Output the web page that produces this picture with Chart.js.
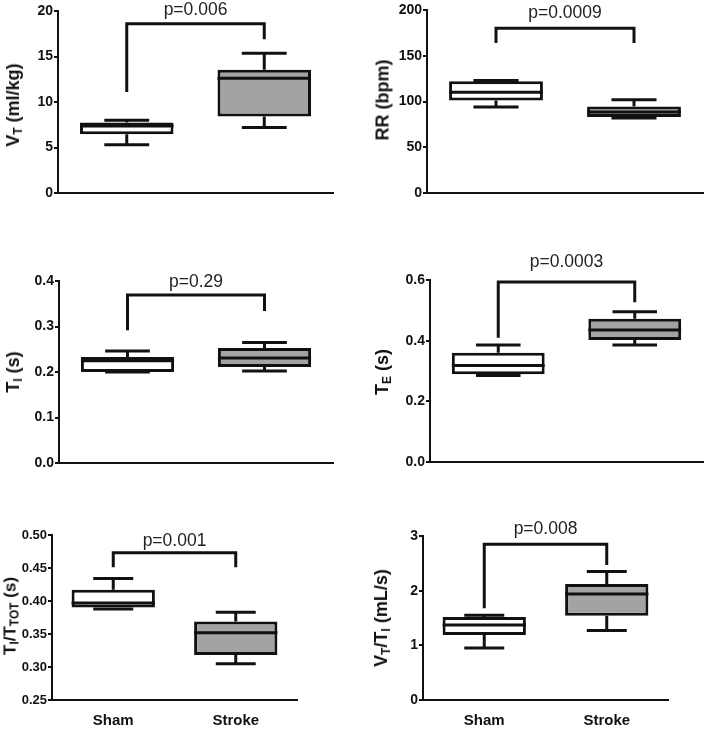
<!DOCTYPE html>
<html>
<head>
<meta charset="utf-8">
<script src="https://cdn.jsdelivr.net/npm/chart.js@4/dist/chart.umd.min.js"></script>
<style>
  body { margin: 0; background: #fff; }
  #page { position: relative; width: 709px; height: 729px; overflow: hidden; }
  #page canvas { position: absolute; }
  .ytitle {
    position: absolute;
    transform: translate(-50%, -50%) rotate(-90deg);
    font: bold 18px "Liberation Sans", Arial, sans-serif;
    color: #111;
    white-space: nowrap;
  }
  .ytitle sub { font-size: 12px; vertical-align: -3px; }
</style>
</head>
<body>
<div id="page"></div>
<script>
// groups on the x axis
const groups = ['Sham', 'Stroke'];

// axis titles and p values, one per panel
const yTitles = [
  'V<sub>T</sub> (ml/kg)',
  'RR (bpm)',
  'T<sub>I</sub> (s)',
  'T<sub>E</sub> (s)',
  'T<sub>I</sub>/T<sub>TOT</sub> (s)',
  'V<sub>T</sub>/T<sub>I</sub> (mL/s)',
];
const pLabels = ['p=0.006', 'p=0.0009', 'p=0.29', 'p=0.0003', 'p=0.001', 'p=0.008'];

// y axis ranges
const yMin = [0, 0, 0, 0, 0.25, 0];
const yMax = [20, 200, 0.4, 0.6, 0.5, 3];
const yStep = [5, 50, 0.1, 0.2, 0.05, 1];
const tickDecimals = [0, 0, 1, 1, 2, 0];

// box stats: [min, q1, median, q3, max]
const shamStats = [
  [5.3, 6.45, 7.35, 7.75, 8.0],
  [94, 101, 110, 122, 123],
  [0.2, 0.2, 0.225, 0.233, 0.246],
  [0.285, 0.289, 0.318, 0.36, 0.386],
  [0.388, 0.39, 0.397, 0.417, 0.434],
  [0.95, 1.19, 1.37, 1.52, 1.55],
];
const strokeStats = [
  [7.2, 8.4, 12.6, 13.55, 15.35],
  [82, 83, 88.5, 94.5, 102],
  [0.202, 0.211, 0.231, 0.253, 0.265],
  [0.386, 0.402, 0.435, 0.472, 0.495],
  [0.305, 0.318, 0.352, 0.369, 0.383],
  [1.27, 1.54, 1.94, 2.12, 2.35],
];

// significance brackets: [sham foot, top, stroke foot]
const brackets = [
  [11.1, 18.6, 16.9],
  [164, 180, 164],
  [0.292, 0.369, 0.334],
  [0.41, 0.593, 0.527],
  [0.451, 0.473, 0.451],
  [1.68, 2.85, 2.47],
];

// layout of the six panels (canvas box, chart area l/t/r/b, title centre)
const panels = [
  { left: 0, top: 0, width: 354, height: 235, area: [58, 11, 333, 193], title: [14, 105], tickSize: 14, pGap: 14 },
  { left: 354, top: 0, width: 355, height: 235, area: [427, 10, 703, 193], title: [383, 100], tickSize: 14, pGap: 15 },
  { left: 0, top: 235, width: 354, height: 250, area: [59, 281, 333, 463], title: [14, 372], tickSize: 14, pGap: 13 },
  { left: 354, top: 235, width: 355, height: 250, area: [430, 280, 703, 462], title: [383, 372], tickSize: 14, pGap: 20 },
  { left: 0, top: 485, width: 354, height: 244, area: [52, 535, 297, 700], title: [11, 616], tickSize: 13, pGap: 12, xLabels: true },
  { left: 354, top: 485, width: 355, height: 244, area: [423, 536, 668, 700], title: [382, 618], tickSize: 14, pGap: 15, xLabels: true },
];

const FONT = '"Liberation Sans", Arial, sans-serif';
const INK = '#111';
const GREY = '#a3a3a3';

// whiskers, medians and the p value bracket
const boxPlugin = {
  id: 'boxWhiskers',
  afterDatasetsDraw(chart, args, opts) {
    const { ctx } = chart;
    const y = chart.scales.y;
    const meta = chart.getDatasetMeta(0);
    const stats = chart.data.datasets[0].stats;
    ctx.save();
    ctx.strokeStyle = INK;
    ctx.lineWidth = 3;
    ctx.lineCap = 'butt';
    ctx.lineJoin = 'miter';
    meta.data.forEach((bar, i) => {
      const [mn, q1, med, q3, mx] = stats[i];
      const half = bar.width / 2;
      const cap = bar.width * 0.24;
      const yMed = y.getPixelForValue(med);
      const yQ1 = y.getPixelForValue(q1);
      const yQ3 = y.getPixelForValue(q3);
      const yMn = y.getPixelForValue(mn);
      const yMx = y.getPixelForValue(mx);
      ctx.beginPath();
      ctx.moveTo(bar.x - half, yMed);
      ctx.lineTo(bar.x + half, yMed);
      ctx.moveTo(bar.x, yQ3);
      ctx.lineTo(bar.x, yMx);
      ctx.moveTo(bar.x - cap, yMx);
      ctx.lineTo(bar.x + cap, yMx);
      ctx.moveTo(bar.x, yQ1);
      ctx.lineTo(bar.x, yMn);
      ctx.moveTo(bar.x - cap, yMn);
      ctx.lineTo(bar.x + cap, yMn);
      ctx.stroke();
    });

    // bracket
    const b = opts.bracket;
    const xl = meta.data[0].x;
    const xr = meta.data[1].x;
    const yTop = y.getPixelForValue(b[1]);
    ctx.beginPath();
    ctx.moveTo(xl, y.getPixelForValue(b[0]));
    ctx.lineTo(xl, yTop);
    ctx.lineTo(xr, yTop);
    ctx.lineTo(xr, y.getPixelForValue(b[2]));
    ctx.stroke();

    ctx.fillStyle = '#222';
    ctx.font = '17.5px ' + FONT;
    ctx.textAlign = 'center';
    ctx.textBaseline = 'middle';
    ctx.fillText(opts.label, (xl + xr) / 2, yTop - opts.gap);
    ctx.restore();
  },
};

const page = document.getElementById('page');

panels.forEach((p, i) => {
  const canvas = document.createElement('canvas');
  canvas.width = p.width;
  canvas.height = p.height;
  canvas.style.left = p.left + 'px';
  canvas.style.top = p.top + 'px';
  page.appendChild(canvas);

  const title = document.createElement('div');
  title.className = 'ytitle';
  title.innerHTML = yTitles[i];
  title.style.left = p.title[0] + 'px';
  title.style.top = p.title[1] + 'px';
  if (p.tickSize < 14) title.style.fontSize = '17px';
  page.appendChild(title);

  const [aL, aT, aR, aB] = p.area;
  const xHeight = p.xLabels ? 28 : 0;
  const sham = shamStats[i];
  const stroke = strokeStats[i];

  new Chart(canvas, {
    type: 'bar',
    data: {
      labels: groups,
      datasets: [
        {
          data: [
            [sham[1], sham[3]],
            [stroke[1], stroke[3]],
          ],
          stats: [sham, stroke],
          backgroundColor: ['#fff', GREY],
          borderColor: INK,
          borderWidth: 3,
          borderSkipped: false,
          barPercentage: 0.68,
          categoryPercentage: 1,
        },
      ],
    },
    options: {
      responsive: false,
      animation: false,
      devicePixelRatio: 1,
      layout: {
        padding: {
          left: 0,
          top: aT - p.top,
          right: p.left + p.width - aR,
          bottom: p.top + p.height - aB - xHeight,
        },
      },
      plugins: {
        legend: { display: false },
        tooltip: { enabled: false },
        boxWhiskers: { bracket: brackets[i], label: pLabels[i], gap: p.pGap },
      },
      scales: {
        x: {
          grid: { display: false, drawTicks: false },
          border: { color: INK, width: 2 },
          ticks: {
            display: !!p.xLabels,
            color: INK,
            padding: 12,
            font: { family: FONT, size: 15, weight: 'bold' },
          },
          afterFit: (s) => {
            s.height = xHeight;
          },
        },
        y: {
          min: yMin[i],
          max: yMax[i],
          ticks: {
            stepSize: yStep[i],
            color: INK,
            padding: 1,
            font: { family: FONT, size: p.tickSize, weight: 'bold' },
            callback: (v) => Number(v).toFixed(tickDecimals[i]),
          },
          grid: {
            drawOnChartArea: false,
            drawTicks: true,
            tickLength: 4,
            color: INK,
            lineWidth: 2,
          },
          border: { color: INK, width: 2 },
          afterFit: (s) => {
            s.width = aL - p.left;
          },
        },
      },
    },
    plugins: [boxPlugin],
  });
});
</script>
</body>
</html>
